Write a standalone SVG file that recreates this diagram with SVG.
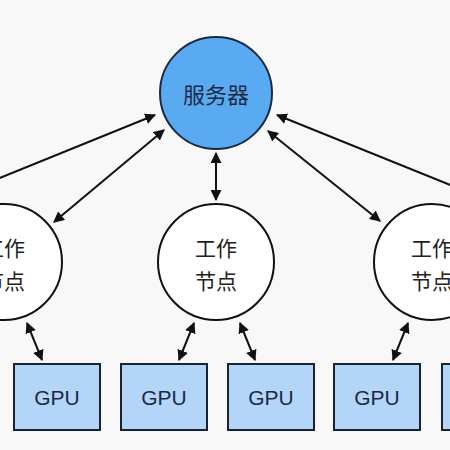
<svg xmlns="http://www.w3.org/2000/svg" width="450" height="450" viewBox="0 0 450 450">
<defs>
<marker id="ah" viewBox="0 0 10 10" refX="9" refY="5" markerWidth="5.5" markerHeight="5.5" orient="auto-start-reverse" markerUnits="strokeWidth">
<path d="M0,0 L10,5 L0,10 z" fill="#111"/>
</marker>
<style>
.edge{stroke:#111;stroke-width:2;fill:none;marker-start:url(#ah);marker-end:url(#ah)}
.worker{fill:#fff;stroke:#111;stroke-width:2}
.gpu{fill:#b3d5f7;stroke:#1a2233;stroke-width:2}
.t{font-family:"Noto Sans CJK SC","Liberation Sans",sans-serif;font-size:21px;text-anchor:middle;dominant-baseline:central}
.g{font-family:"Liberation Sans","Noto Sans CJK SC",sans-serif;font-size:21px;text-anchor:middle;dominant-baseline:central}
.tw{fill:#222}
.tb{fill:#1a2a44}
</style>
</defs>
<rect width="450" height="450" fill="#f8f8f8"/>
<g id="connectors">
<line class="edge" x1="216" y1="153" x2="216" y2="200"/>
<line class="edge" x1="164" y1="130" x2="54" y2="222"/>
<line class="edge" x1="155" y1="115" x2="-20" y2="186" style="marker-end:none"/>
<line class="edge" x1="268" y1="131" x2="380" y2="221"/>
<line class="edge" x1="277" y1="115" x2="470" y2="193" style="marker-end:none"/>
<line class="edge" x1="27" y1="323" x2="42" y2="360"/>
<line class="edge" x1="194" y1="323" x2="179" y2="360"/>
<line class="edge" x1="240" y1="323" x2="255" y2="360"/>
<line class="edge" x1="408" y1="323" x2="393" y2="360"/>
</g>
<g id="server">
<circle cx="216" cy="93" r="56" fill="#5aaaf2" stroke="#1a2a44" stroke-width="2"/>
<text class="t tb" x="216" y="93" style="font-size:22px">服务器</text>
</g>
<g id="worker1">
<circle class="worker" cx="4" cy="262" r="58"/>
<text class="t tw" x="4" y="247">工作</text>
<text class="t tw" x="4" y="280">节点</text>
</g>
<g id="worker2">
<circle class="worker" cx="216" cy="262" r="58"/>
<text class="t tw" x="216" y="247">工作</text>
<text class="t tw" x="216" y="280">节点</text>
</g>
<g id="worker3">
<circle class="worker" cx="432" cy="262" r="58"/>
<text class="t tw" x="432" y="247">工作</text>
<text class="t tw" x="432" y="280">节点</text>
</g>
<g id="gpu1"><rect class="gpu" x="14" y="364" width="86" height="66"/><text class="g tb" x="57" y="397">GPU</text></g>
<g id="gpu2"><rect class="gpu" x="121" y="364" width="86" height="66"/><text class="g tb" x="164" y="397">GPU</text></g>
<g id="gpu3"><rect class="gpu" x="228" y="364" width="86" height="66"/><text class="g tb" x="271" y="397">GPU</text></g>
<g id="gpu4"><rect class="gpu" x="334" y="364" width="86" height="66"/><text class="g tb" x="377" y="397">GPU</text></g>
<g id="gpu5"><rect class="gpu" x="442" y="364" width="86" height="66"/></g>
</svg>
